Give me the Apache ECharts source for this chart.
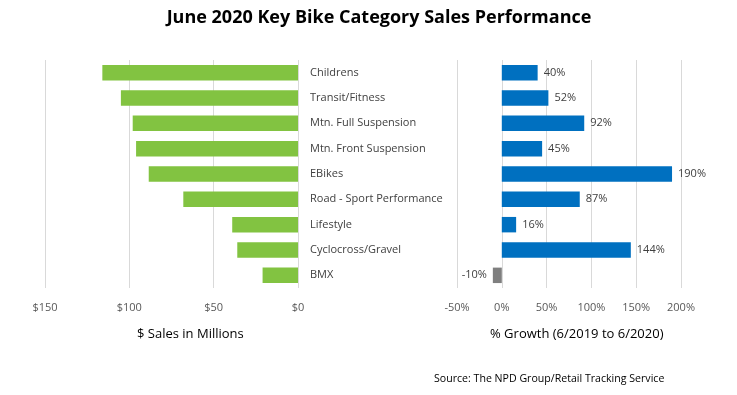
<!DOCTYPE html>
<html><head><meta charset="utf-8">
<script src="https://cdn.jsdelivr.net/npm/echarts@6/dist/echarts.min.js"></script>
<style>html,body{margin:0;padding:0;background:#fff}#c{width:737px;height:395px}</style>
</head><body><div id="c"></div>
<script>
const categories = ['Childrens','Transit/Fitness','Mtn. Full Suspension','Mtn. Front Suspension','EBikes','Road - Sport Performance','Lifestyle','Cyclocross/Gravel','BMX'];
const salesMillions = [116, 105, 98, 96, 88.5, 68, 39, 36, 21];
const growthPct = [40, 52, 92, 45, 190, 87, 16, 144, -10];
const salesTicks = [0, 50, 100, 150];
const growthTicks = [-50, 0, 50, 100, 150, 200];

const chart = echarts.init(document.getElementById('c'));
const font = 'Open Sans';
chart.setOption({
  animation: false,
  textStyle: {fontFamily: font},
  title: {text: 'June 2020 Key Bike Category Sales Performance', left: 374, top: 4, textAlign: 'center',
    textStyle: {fontFamily: font, fontSize: 18, fontWeight: 'bold', color: '#000'}},
  grid: [
    {left: 45, right: 439, top: 60, height: 228},
    {left: 457, right: 56, top: 60, height: 228}
  ],
  xAxis: [
    {gridIndex: 0, type: 'value', inverse: true, min: salesTicks[0], max: salesTicks[salesTicks.length-1], interval: 50,
      axisLine: {show: false}, axisTick: {show: false},
      splitLine: {lineStyle: {color: '#d9d9d9'}},
      axisLabel: {color: '#595959', fontSize: 11, margin: 14, formatter: v => '$' + v}},
    {gridIndex: 1, type: 'value', min: growthTicks[0], max: growthTicks[growthTicks.length-1], interval: 50,
      axisLine: {show: false}, axisTick: {show: false},
      splitLine: {lineStyle: {color: '#d9d9d9'}},
      axisLabel: {color: '#595959', fontSize: 11, margin: 14, formatter: v => v + '%'}}
  ],
  yAxis: [
    {gridIndex: 0, type: 'category', data: categories, inverse: true, position: 'right',
      axisLine: {show: false}, axisTick: {show: false},
      axisLabel: {color: '#404040', fontSize: 11, margin: 12, align: 'left'}},
    {gridIndex: 1, type: 'category', data: categories, inverse: true,
      axisLine: {show: false}, axisTick: {show: false}, axisLabel: {show: false}}
  ],
  series: [
    {type: 'bar', xAxisIndex: 0, yAxisIndex: 0, data: salesMillions, barWidth: '61%',
      itemStyle: {color: '#82C341'}},
    {type: 'bar', xAxisIndex: 1, yAxisIndex: 1, barWidth: '61%',
      data: growthPct.map(v => ({value: v, itemStyle: {color: v < 0 ? '#7f7f7f' : '#0070C0'},
        label: {position: v < 0 ? 'left' : 'right'}})),
      label: {show: true, formatter: p => p.value + '%', color: '#404040', fontSize: 11, distance: 6}}
  ],
  graphic: [
    {type: 'text', left: 137, top: 328, style: {text: '$ Sales in Millions', fontFamily: font, fontSize: 13, fill: '#000'}},
    {type: 'text', left: 490, top: 328, style: {text: '% Growth (6/2019 to 6/2020)', fontFamily: font, fontSize: 13, fill: '#000'}},
    {type: 'text', left: 434, top: 373, style: {text: 'Source: The NPD Group/Retail Tracking Service', fontFamily: font, fontSize: 10.6, fill: '#000'}}
  ]
});
</script></body></html>
